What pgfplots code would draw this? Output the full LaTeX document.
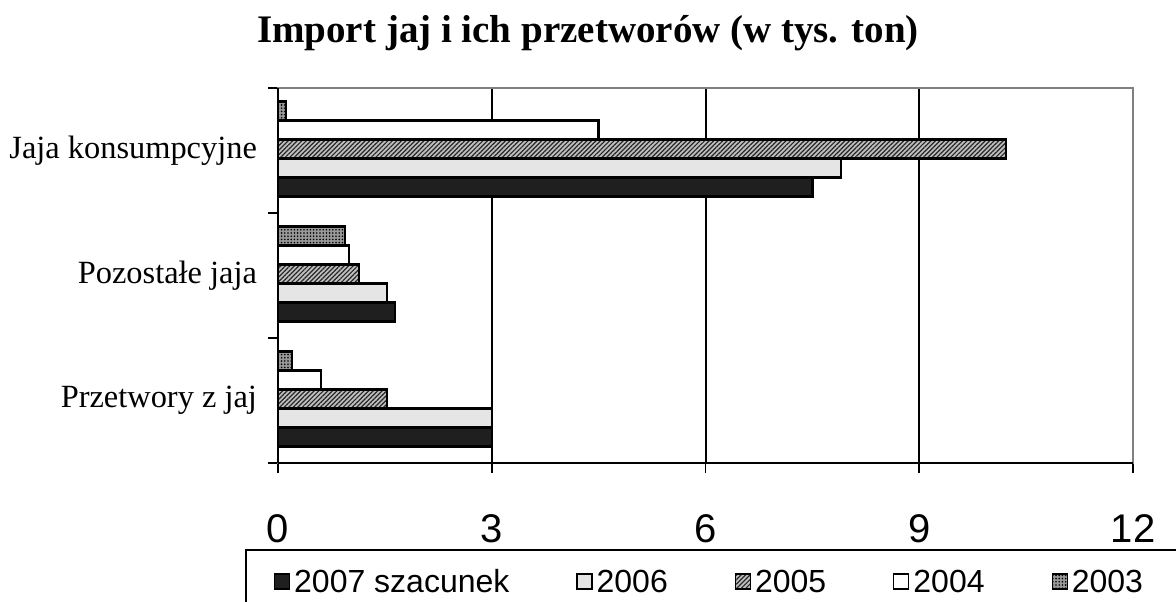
\documentclass[border=0pt]{standalone}
\usepackage{pgfplots}
\pgfplotsset{compat=1.18}
\usepackage{fontspec}
\setmainfont{Liberation Serif}
\newfontfamily\arial{Liberation Sans}
\usetikzlibrary{patterns,patterns.meta}
\begin{document}
\begin{tikzpicture}
\path[use as bounding box] (0,0) rectangle (588pt,300.5pt);
\node[anchor=base,font=\bfseries\fontsize{19.5}{22}\selectfont] at (294pt,279pt) {Import jaj i ich przetworów (w tys. ton)};
\begin{axis}[
  at={(139pt,69pt)}, anchor=south west,
  scale only axis, width=427.5pt, height=187.5pt,
  xbar, bar width=0.152,
  xmin=0, xmax=12, ymin=-0.5, ymax=2.5,
  xtick={0,3,6,9,12}, xtick pos=bottom, ytick pos=left,
  xmajorgrids, major grid style={black, line width=1pt},
  ytick={-0.5,0.5,1.5,2.5}, yticklabels={,,,},
  extra y ticks={0,1,2},
  extra y tick labels={Przetwory z jaj,Pozostałe jaja,Jaja konsumpcyjne},
  extra y tick style={major tick length=0pt, yticklabel style={font=\fontsize{16.2}{18}\selectfont, xshift=-7pt}},
  tick align=outside, major tick length=5pt,
  tick style={black, line width=0.9pt},
  axis line style={draw=gray, line width=0.9pt},
  xticklabel style={font=\arial\fontsize{20}{22}\selectfont, yshift=-17pt},
  /pgf/number format/assume math mode=true,
  legend columns=5,
  legend style={at={(-0.0386,-0.228)}, anchor=north west, draw=black, line width=1pt,
    inner xsep=14pt, inner ysep=8pt,
    font=\arial\fontsize{16}{18}\selectfont,
    nodes={text height=11.5pt, text depth=0.5pt},
    /tikz/every even column/.append style={column sep=31.5pt}},
  legend image code/.code={\draw[#1, line width=0.6pt] (0pt,-3.75pt) rectangle (7.5pt,3.75pt);},
  clip=false,
]
\addplot[draw=black, line width=1.2pt, fill=black!88, bar shift=-0.293] coordinates {(3.0,0) (1.64,1) (7.5,2)};
\addplot[draw=black, line width=1.2pt, fill=black!10, bar shift=-0.141] coordinates {(3.0,0) (1.53,1) (7.9,2)};
\addplot[draw=black, line width=1.2pt, fill=black!25, postaction={pattern={Lines[angle=45,distance=1.6pt,line width=0.6pt]}, pattern color=black!85}, bar shift=0.011] coordinates {(1.53,0) (1.14,1) (10.22,2)};
\addplot[draw=black, line width=1.2pt, fill=white, bar shift=0.163] coordinates {(0.6,0) (1.0,1) (4.5,2)};
\addplot[draw=black, line width=1.2pt, fill=black!40, postaction={pattern={Dots[distance=1.6pt,radius=0.45pt]}, pattern color=black}, bar shift=0.315] coordinates {(0.2,0) (0.94,1) (0.11,2)};
\legend{2007 szacunek,2006,2005,2004,2003\hspace*{12pt}}
\draw[black, line width=1pt] (rel axis cs:0,0) -- (rel axis cs:0,1);
\draw[black, line width=1pt] (rel axis cs:0,0) -- (rel axis cs:1,0);
\end{axis}
\end{tikzpicture}
\end{document}
